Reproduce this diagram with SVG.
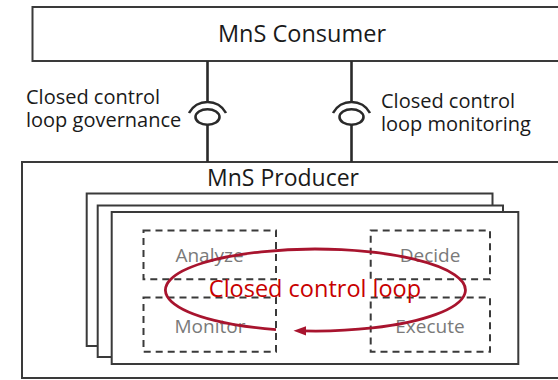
<svg xmlns="http://www.w3.org/2000/svg" width="558" height="380" viewBox="0 0 558 380">
<style>
.box{fill:#fff;stroke:#3a3a3a;stroke-width:2}
.dash{fill:none;stroke:#3a3a3a;stroke-width:2;stroke-dasharray:7 5}
.t{font-family:"Open Sans","Noto Sans","DejaVu Sans",sans-serif;fill:#1a1a1a}
.g{font-family:"Open Sans","Noto Sans","DejaVu Sans",sans-serif;fill:#7a7a7a;font-size:19px;text-anchor:middle}
.wire{fill:none;stroke:#2a2a2a;stroke-width:2.6}
</style>
<rect width="558" height="380" fill="#fff"/>
<g id="consumer">
<rect class="box" x="32.5" y="7" width="540" height="54"/>
<text class="t" x="302" y="42" font-size="23.5" text-anchor="middle">MnS Consumer</text>
</g>
<g id="producer">
<rect class="box" x="22" y="162" width="550" height="216"/>
<text class="t" x="283" y="186" font-size="23" text-anchor="middle">MnS Producer</text>
</g>
<g id="connectors">
<g id="governance-interface">
<line class="wire" x1="207.5" y1="61" x2="207.5" y2="102"/>
<path class="wire" d="M189 113 A21 21 0 0 1 226 113"/>
<ellipse class="wire" cx="207.5" cy="117" rx="12" ry="7.8"/>
<line class="wire" x1="207.5" y1="125" x2="207.5" y2="162"/>
</g>
<g id="monitoring-interface">
<line class="wire" x1="351.5" y1="61" x2="351.5" y2="102"/>
<path class="wire" d="M333 113 A21 21 0 0 1 370 113"/>
<ellipse class="wire" cx="351.5" cy="117" rx="12" ry="7.8"/>
<line class="wire" x1="351.5" y1="125" x2="351.5" y2="162"/>
</g>
</g>
<g id="label-governance">
<text class="t" font-size="20"><tspan x="26" y="103.5">Closed control</tspan><tspan x="26" y="126.5">loop governance</tspan></text>
</g>
<g id="label-monitoring">
<text class="t" font-size="20"><tspan x="381" y="108">Closed control</tspan><tspan x="381" y="131">loop monitoring</tspan></text>
</g>
<g id="loop-stack">
<rect class="box" x="86.7" y="193.5" width="405.8" height="152.5"/>
<rect class="box" x="97.7" y="205.5" width="405.3" height="151.5"/>
<rect class="box" x="111.7" y="212" width="406.6" height="152"/>
</g>
<g id="analyze">
<rect class="dash" x="143.5" y="230.5" width="132.5" height="48.8"/>
<text class="g" x="209.5" y="262">Analyze</text>
</g>
<g id="decide">
<rect class="dash" x="370.7" y="230.5" width="119.3" height="48.8"/>
<text class="g" x="430" y="262">Decide</text>
</g>
<g id="monitor">
<rect class="dash" x="143.5" y="297.5" width="132.5" height="54.2"/>
<text class="g" x="210" y="333">Monitor</text>
</g>
<g id="execute">
<rect class="dash" x="370.7" y="297.5" width="119.3" height="54.2"/>
<text class="g" x="430" y="333">Execute</text>
</g>
<g id="closed-loop">
<path d="M276 329.6 A150 41 0 1 1 303 330.9" fill="none" stroke="#A8142E" stroke-width="2.8"/>
<polygon points="293.5,330.8 306,326.2 306,335.4" fill="#A8142E"/>
<text x="315" y="297" font-family="'Open Sans','Noto Sans','DejaVu Sans',sans-serif" font-size="23.5" fill="#C80000" text-anchor="middle">Closed control loop</text>
</g>
</svg>
